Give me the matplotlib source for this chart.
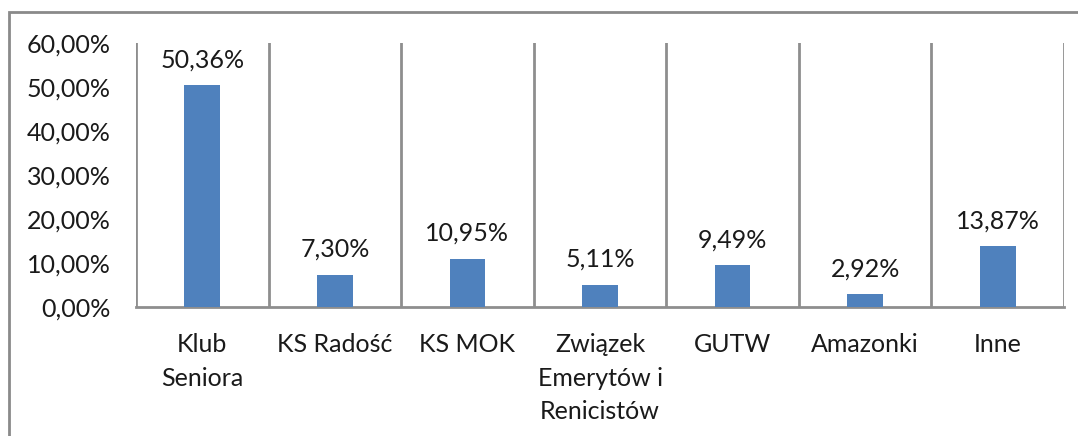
import matplotlib
matplotlib.use("Agg")
import matplotlib.pyplot as plt
from matplotlib.patches import Rectangle
from matplotlib.ticker import FixedLocator, FuncFormatter

categories = ["Klub\nSeniora", "KS Radość", "KS MOK", "Związek\nEmerytów i\nRenicistów",
              "GUTW", "Amazonki", "Inne"]
values = [50.36, 7.30, 10.95, 5.11, 9.49, 2.92, 13.87]
y_ticks = [0, 10, 20, 30, 40, 50, 60]

plt.rcParams['font.family'] = ['Lato', 'DejaVu Sans']
FS = 18
GRID = "#8e8e8e"
BAR = "#4F81BD"

W, H = 1078, 436
fig = plt.figure(figsize=(W / 100, H / 100), dpi=100)

# outer chart frame
fig.patches.append(Rectangle((9 / W, -0.05), 1.2, 1 - 12 / H + 0.05,
                             transform=fig.transFigure, fill=False,
                             edgecolor="#8a8a8a", linewidth=2))

ax = fig.add_axes([136 / W, 1 - 307 / H, (1064 - 136) / W, (307 - 43) / H])
x = range(len(values))
ax.bar(x, values, width=0.27, color=BAR, zorder=3)

ax.set_xlim(-0.5, len(values) - 0.5)
ax.set_ylim(0, 60)

# category separator lines
for b in [i - 0.5 for i in range(len(values) + 1)]:
    ax.axvline(b, color=GRID, linewidth=2, zorder=1)

for s in ["top", "right", "left"]:
    ax.spines[s].set_visible(False)
ax.spines["bottom"].set_color(GRID)
ax.spines["bottom"].set_linewidth(2)

ax.yaxis.set_major_locator(FixedLocator(y_ticks))
ax.yaxis.set_major_formatter(FuncFormatter(lambda v, p: f"{v:.2f}%".replace(".", ",")))
ax.set_xticks(list(x))
ax.set_xticklabels(categories, linespacing=1.55, va="top")
ax.tick_params(axis="both", length=0, labelsize=FS, colors="#1a1a1a")
ax.tick_params(axis="y", pad=18)
ax.tick_params(axis="x", pad=19)

for i, v in enumerate(values):
    ax.annotate(f"{v:.2f}%".replace(".", ","), (i, v), xytext=(0, 10),
                textcoords="offset points", ha="center", va="bottom",
                fontsize=FS, color="#1a1a1a")

fig.savefig("out.png", dpi=100)
